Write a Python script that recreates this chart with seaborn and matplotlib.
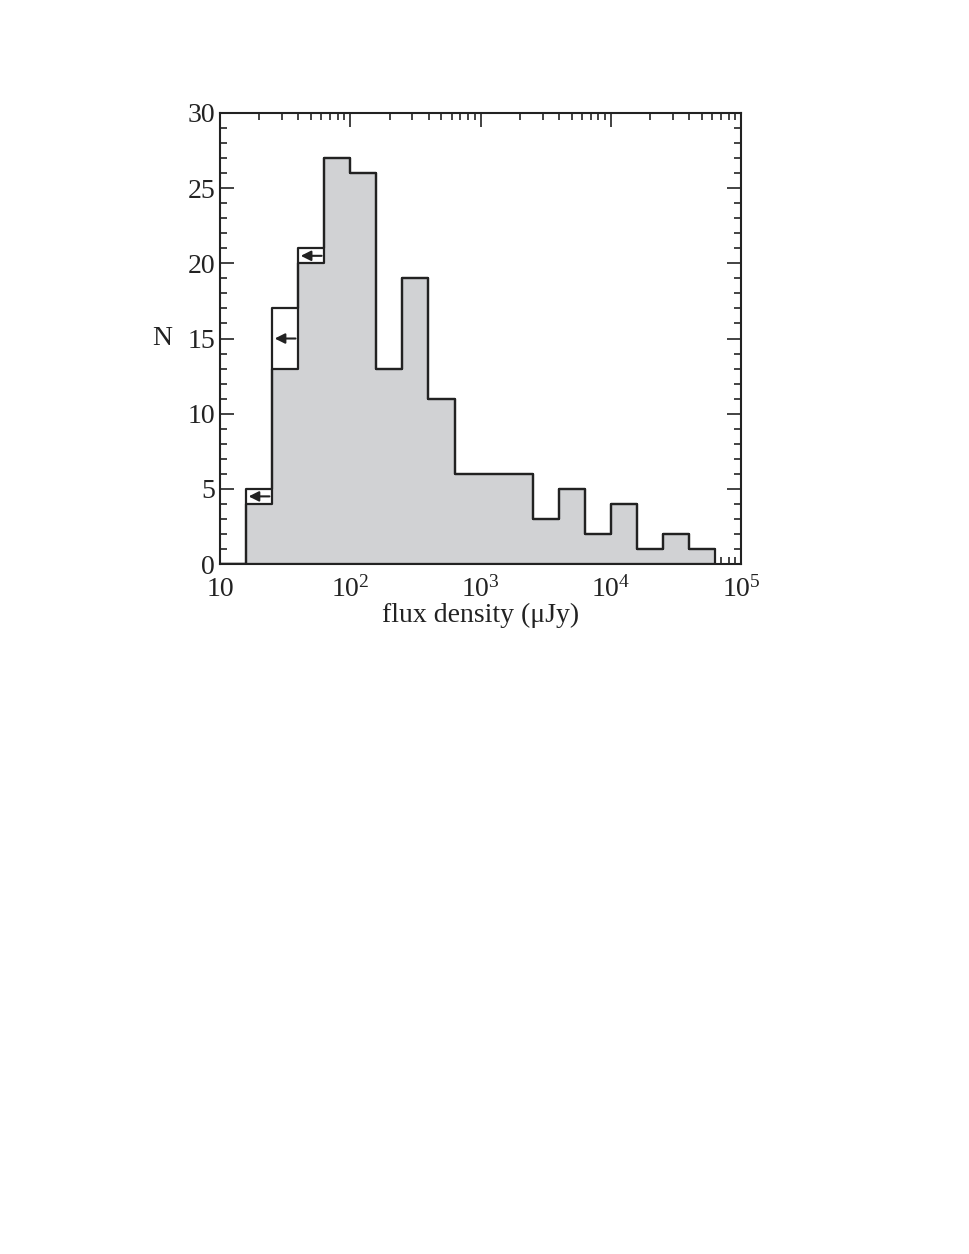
import numpy as np
import pandas as pd
import matplotlib
matplotlib.use("Agg")
import matplotlib.pyplot as plt
import matplotlib.ticker as mticker
import seaborn as sns

# ---- data (log10 flux bin lower edges, 0.2 dex bins) ----
bin_lo_log = [1.0, 1.2, 1.4, 1.6, 1.8, 2.0, 2.2, 2.4, 2.6, 2.8, 3.0, 3.2, 3.4, 3.6, 3.8, 4.0, 4.2, 4.4, 4.6]
detected = [0, 4, 13, 20, 27, 26, 13, 19, 11, 6, 6, 6, 3, 5, 2, 4, 1, 2, 1]
total = [0, 5, 17, 21, 27, 26, 13, 19, 11, 6, 6, 6, 3, 5, 2, 4, 1, 2, 1]
arrow_bins = [1.2, 1.4, 1.6]
arrow_y = [4.5, 15, 20.5]
xtick_labels = ["10", r"$10^{2}$", r"$10^{3}$", r"$10^{4}$", r"$10^{5}$"]

sns.set_style("ticks")
plt.rcParams["font.family"] = ["Liberation Serif", "DejaVu Serif"]
plt.rcParams["mathtext.fontset"] = "custom"
plt.rcParams["mathtext.rm"] = "Liberation Serif"
plt.rcParams["mathtext.it"] = "Liberation Serif:italic"

binw = 0.2
centers = 10 ** (np.array(bin_lo_log) + binw / 2)
df = pd.DataFrame({"flux": centers, "det": detected, "tot": total})

fig = plt.figure(figsize=(9.69, 12.54), dpi=100)
ax = fig.add_axes([0.227, 0.5502, 0.538, 0.3597])

sns.histplot(data=df, x="flux", weights="det", binwidth=binw, binrange=(1.0, 4.8),
             log_scale=True, element="step", fill=True, color="#d1d2d4",
             edgecolor="#222222", linewidth=1.6, alpha=1, ax=ax)
sns.histplot(data=df, x="flux", weights="tot", binwidth=binw, binrange=(1.0, 4.8),
             log_scale=True, element="step", fill=False, color="#222222",
             linewidth=1.6, ax=ax)

for b, y in zip(arrow_bins, arrow_y):
    ax.annotate("", xy=(10 ** (b + 0.02), y), xytext=(10 ** (b + 0.18), y),
                arrowprops=dict(arrowstyle="-|>", color="#222222", lw=1.5,
                                mutation_scale=15, shrinkA=0, shrinkB=0))

ax.set_xlim(10, 1e5)
ax.set_ylim(0, 30)
ax.xaxis.set_major_locator(mticker.FixedLocator([10, 1e2, 1e3, 1e4, 1e5]))
ax.xaxis.set_major_formatter(mticker.FixedFormatter(xtick_labels))
ax.xaxis.set_minor_locator(mticker.LogLocator(base=10, subs=np.arange(2, 10), numticks=20))
ax.xaxis.set_minor_formatter(mticker.NullFormatter())
ax.yaxis.set_major_locator(mticker.MultipleLocator(5))
ax.yaxis.set_minor_locator(mticker.MultipleLocator(1))

ax.tick_params(which="both", direction="in", top=True, right=True, width=1.2,
               color="#222222", labelsize=20, labelcolor="#222222")
ax.tick_params(which="major", length=10)
ax.tick_params(which="minor", length=5)
ax.tick_params(axis="x", which="major", pad=9)
for s in ax.spines.values():
    s.set_linewidth(1.5)
    s.set_color("#222222")

ax.set_xlabel("flux density (μJy)", fontsize=20, color="#222222", labelpad=0)
ax.set_ylabel("N", fontsize=20, color="#222222", rotation=0, labelpad=18, va="center")

fig.savefig("out.png", dpi=100, facecolor="white")
